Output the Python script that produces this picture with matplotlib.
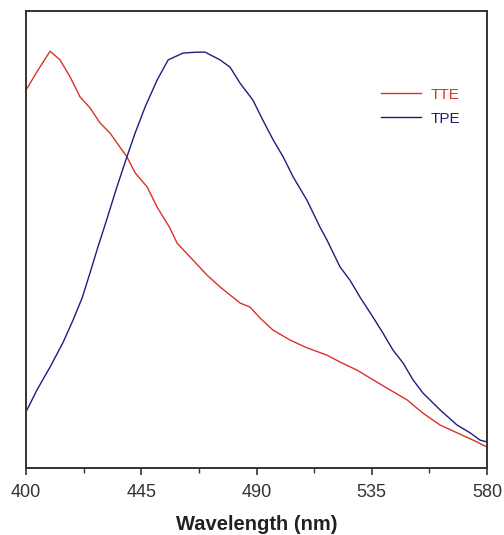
import matplotlib
matplotlib.use("Agg")
import matplotlib.pyplot as plt

plt.rcParams["font.family"] = ["Liberation Sans", "DejaVu Sans"]

# TTE emission (normalised intensity)
tte_wl = [400.0, 404.7, 409.4, 413.3, 417.2, 421.1, 425.0, 428.9, 432.8, 436.7,
          439.4, 442.6, 447.3, 451.2, 456.2, 459.0, 465.2, 470.7, 475.8, 483.6,
          487.5, 491.4, 496.4, 503.1, 509.7, 517.5, 522.6, 529.3, 535.5, 542.1,
          548.8, 555.0, 561.7, 568.3, 574.6, 580.0]
tte_int = [0.827, 0.871, 0.912, 0.893, 0.856, 0.812, 0.788, 0.755, 0.733, 0.702,
           0.681, 0.646, 0.615, 0.571, 0.525, 0.492, 0.455, 0.422, 0.396, 0.361,
           0.352, 0.328, 0.302, 0.280, 0.263, 0.247, 0.232, 0.214, 0.193, 0.171,
           0.149, 0.120, 0.094, 0.077, 0.061, 0.046]

# TPE emission
tpe_wl = [400.0, 404.3, 409.4, 414.4, 418.4, 421.9, 425.0, 428.1, 431.2, 435.5,
          439.4, 442.6, 446.5, 451.2, 455.5, 461.3, 466.8, 469.9, 475.8, 479.7,
          483.6, 488.6, 492.5, 496.5, 500.4, 504.3, 509.7, 514.8, 517.5, 522.6,
          526.5, 530.4, 535.5, 539.4, 543.3, 547.2, 551.1, 555.0, 561.7, 568.3,
          573.4, 577.3, 580.0]
tpe_int = [0.123, 0.171, 0.221, 0.274, 0.324, 0.372, 0.427, 0.484, 0.538, 0.615,
           0.681, 0.733, 0.790, 0.849, 0.893, 0.908, 0.910, 0.910, 0.893, 0.877,
           0.842, 0.805, 0.761, 0.718, 0.681, 0.637, 0.586, 0.527, 0.499, 0.440,
           0.411, 0.374, 0.330, 0.295, 0.258, 0.230, 0.193, 0.164, 0.127, 0.094,
           0.077, 0.061, 0.057]

XTICKS = [400, 445, 490, 535, 580]
XMINOR = [422.5, 467.5, 512.5, 557.5]

fig = plt.figure(figsize=(5.04, 5.35), dpi=100)
ax = fig.add_axes([0.0516, 0.1252, 0.9147, 0.8542])

ax.plot(tte_wl, tte_int, color="#d8322c", linewidth=1.0, label="TTE")
ax.plot(tpe_wl, tpe_int, color="#1c1f80", linewidth=1.0, label="TPE")

ax.set_xlim(400, 580)
ax.set_ylim(0, 1)
ax.set_xticks(XTICKS)
ax.set_xticks(XMINOR, minor=True)
ax.set_yticks([])
ax.tick_params(axis="x", which="major", direction="out", length=5, width=1.2,
               pad=6.5, labelsize=13, labelcolor="#333333", color="#333333")
ax.tick_params(axis="x", which="minor", direction="out", length=3.5, width=1.0,
               color="#333333")
for spine in ax.spines.values():
    spine.set_linewidth(1.4)
    spine.set_color("#333333")

ax.set_xlabel("Wavelength (nm)", fontsize=14.5, fontweight="bold",
              color="#222222", labelpad=10)

ax.legend(loc="upper left", bbox_to_anchor=(0.771, 0.832), frameon=False,
          fontsize=11, handlelength=2.6, handletextpad=0.6,
          labelspacing=0.65, borderpad=0, borderaxespad=0,
          labelcolor="linecolor")

fig.savefig("out.png", dpi=100, facecolor="white")
